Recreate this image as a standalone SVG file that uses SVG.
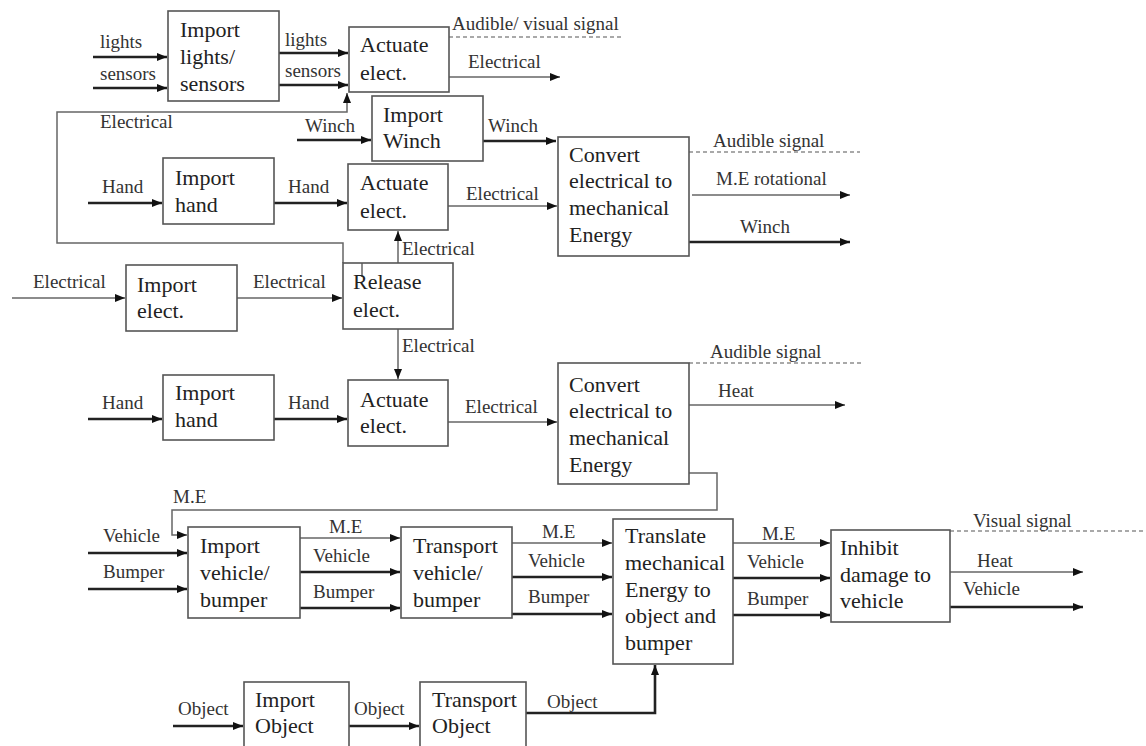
<svg xmlns="http://www.w3.org/2000/svg" width="1146" height="746" viewBox="0 0 1146 746">
<defs>
<style>
.box{fill:#fff;stroke:#555;stroke-width:1.6}
.t{font-family:"Liberation Serif","Times New Roman",serif;font-size:22px;fill:#222}
.l{font-family:"Liberation Serif","Times New Roman",serif;font-size:19px;fill:#333}
.ln{fill:none;stroke:#666;stroke-width:1.5}
.th{fill:none;stroke:#222;stroke-width:2.6}
.ds{fill:none;stroke:#555;stroke-width:1.2;stroke-dasharray:4 3}
.a{marker-end:url(#ah)}
</style>
<marker id="ah" viewBox="0 0 10 8" refX="10" refY="4" markerWidth="10" markerHeight="8" markerUnits="userSpaceOnUse" orient="auto">
<path d="M0,0 L10,4 L0,8 z" fill="#111"/>
</marker>
</defs>
<rect width="1146" height="746" fill="#fff"/>

<g id="connectors">
<line class="th a" x1="93" y1="57" x2="167" y2="57"/>
<line class="th a" x1="93" y1="88" x2="167" y2="88"/>
<line class="th a" x1="279" y1="53" x2="348" y2="53"/>
<line class="th a" x1="279" y1="85" x2="348" y2="85"/>
<path class="ln a" d="M343,263 V243 H57 V112 H347 V93"/>
<path class="ln" d="M362,263 V277"/>
<line class="ds" x1="449" y1="37" x2="622" y2="37"/>
<line class="ln a" x1="449" y1="77" x2="560" y2="77"/>
<line class="th a" x1="297" y1="140" x2="371" y2="140"/>
<line class="th a" x1="483" y1="141" x2="556" y2="141"/>
<line class="th a" x1="88" y1="203" x2="162" y2="203"/>
<line class="th a" x1="274" y1="203" x2="347" y2="203"/>
<line class="ln a" x1="448" y1="206" x2="557" y2="206"/>
<line class="ds" x1="689" y1="152" x2="860" y2="152"/>
<line class="ln a" x1="692" y1="195" x2="850" y2="195"/>
<line class="th a" x1="689" y1="242" x2="850" y2="242"/>
<line class="ln a" x1="398" y1="263" x2="398" y2="231"/>
<line class="ln a" x1="12" y1="298" x2="125" y2="298"/>
<line class="ln a" x1="237" y1="298" x2="342" y2="298"/>
<line class="ln a" x1="398" y1="329" x2="398" y2="379"/>
<line class="th a" x1="88" y1="419" x2="162" y2="419"/>
<line class="th a" x1="274" y1="419" x2="347" y2="419"/>
<line class="ln a" x1="448" y1="422" x2="557" y2="422"/>
<line class="ds" x1="689" y1="363" x2="862" y2="363"/>
<line class="ln a" x1="689" y1="405" x2="845" y2="405"/>
<path class="ln a" d="M689,473 H717 V510 H172 V535 H187"/>
<line class="th a" x1="88" y1="553" x2="187" y2="553"/>
<line class="th a" x1="88" y1="589" x2="187" y2="589"/>
<line class="ln a" x1="300" y1="538" x2="400" y2="538"/>
<line class="th a" x1="300" y1="572" x2="400" y2="572"/>
<line class="th a" x1="300" y1="608" x2="400" y2="608"/>
<line class="ln a" x1="512" y1="543" x2="612" y2="543"/>
<line class="th a" x1="512" y1="577" x2="612" y2="577"/>
<line class="th a" x1="512" y1="614" x2="612" y2="614"/>
<line class="ln a" x1="733" y1="543" x2="830" y2="543"/>
<line class="th a" x1="733" y1="578" x2="830" y2="578"/>
<line class="th a" x1="733" y1="615" x2="830" y2="615"/>
<line class="ds" x1="950" y1="531" x2="1146" y2="531"/>
<line class="ln a" x1="950" y1="572" x2="1083" y2="572"/>
<line class="th a" x1="950" y1="607" x2="1083" y2="607"/>
<line class="th a" x1="173" y1="726" x2="243" y2="726"/>
<line class="th a" x1="349" y1="726" x2="419" y2="726"/>
<path class="th a" d="M526,713 H655 V665"/>
</g>

<g id="labels">
<text class="l" x="100" y="48">lights</text>
<text class="l" x="100" y="80">sensors</text>
<text class="l" x="285" y="46">lights</text>
<text class="l" x="285" y="77">sensors</text>
<text class="l" x="100" y="128">Electrical</text>
<text class="l" x="452" y="30">Audible/ visual signal</text>
<text class="l" x="468" y="68">Electrical</text>
<text class="l" x="305" y="132">Winch</text>
<text class="l" x="488" y="132">Winch</text>
<text class="l" x="713" y="147">Audible signal</text>
<text class="l" x="716" y="185">M.E rotational</text>
<text class="l" x="740" y="233">Winch</text>
<text class="l" x="102" y="193">Hand</text>
<text class="l" x="288" y="193">Hand</text>
<text class="l" x="466" y="200">Electrical</text>
<text class="l" x="402" y="255">Electrical</text>
<text class="l" x="33" y="288">Electrical</text>
<text class="l" x="253" y="288">Electrical</text>
<text class="l" x="402" y="352">Electrical</text>
<text class="l" x="102" y="409">Hand</text>
<text class="l" x="288" y="409">Hand</text>
<text class="l" x="465" y="413">Electrical</text>
<text class="l" x="710" y="358">Audible signal</text>
<text class="l" x="718" y="397">Heat</text>
<text class="l" x="173" y="503">M.E</text>
<text class="l" x="103" y="542">Vehicle</text>
<text class="l" x="103" y="578">Bumper</text>
<text class="l" x="329" y="533">M.E</text>
<text class="l" x="313" y="562">Vehicle</text>
<text class="l" x="313" y="598">Bumper</text>
<text class="l" x="542" y="538">M.E</text>
<text class="l" x="528" y="567">Vehicle</text>
<text class="l" x="528" y="603">Bumper</text>
<text class="l" x="762" y="540">M.E</text>
<text class="l" x="747" y="568">Vehicle</text>
<text class="l" x="747" y="605">Bumper</text>
<text class="l" x="973" y="527">Visual signal</text>
<text class="l" x="977" y="567">Heat</text>
<text class="l" x="963" y="595">Vehicle</text>
<text class="l" x="178" y="715">Object</text>
<text class="l" x="354" y="715">Object</text>
<text class="l" x="547" y="708">Object</text>
</g>

<g id="n-import-lights"><rect class="box" x="168" y="11" width="111" height="90"/><text class="t" x="180" y="37">Import</text><text class="t" x="180" y="64">lights/</text><text class="t" x="180" y="91">sensors</text></g>
<g id="n-actuate1"><rect class="box" x="349" y="27" width="100" height="65"/><text class="t" x="360" y="52">Actuate</text><text class="t" x="360" y="80">elect.</text></g>
<g id="n-import-winch"><rect class="box" x="372" y="96" width="111" height="65"/><text class="t" x="383" y="122">Import</text><text class="t" x="383" y="148">Winch</text></g>
<g id="n-convert1"><rect class="box" x="558" y="137" width="131" height="119"/><text class="t" x="569" y="162">Convert</text><text class="t" x="569" y="188">electrical to</text><text class="t" x="569" y="215">mechanical</text><text class="t" x="569" y="242">Energy</text></g>
<g id="n-import-hand1"><rect class="box" x="163" y="158" width="111" height="66"/><text class="t" x="175" y="185">Import</text><text class="t" x="175" y="212">hand</text></g>
<g id="n-actuate2"><rect class="box" x="348" y="164" width="100" height="66"/><text class="t" x="360" y="190">Actuate</text><text class="t" x="360" y="218">elect.</text></g>
<g id="n-release"><rect class="box" x="343" y="263" width="110" height="66" fill-opacity="0"/><text class="t" x="353" y="289">Release</text><text class="t" x="353" y="317">elect.</text></g>
<g id="n-import-elect"><rect class="box" x="126" y="265" width="111" height="66"/><text class="t" x="137" y="292">Import</text><text class="t" x="137" y="318">elect.</text></g>
<g id="n-import-hand2"><rect class="box" x="163" y="375" width="111" height="65"/><text class="t" x="175" y="400">Import</text><text class="t" x="175" y="427">hand</text></g>
<g id="n-actuate3"><rect class="box" x="348" y="380" width="100" height="66"/><text class="t" x="360" y="407">Actuate</text><text class="t" x="360" y="433">elect.</text></g>
<g id="n-convert2"><rect class="box" x="558" y="363" width="131" height="121"/><text class="t" x="569" y="392">Convert</text><text class="t" x="569" y="418">electrical to</text><text class="t" x="569" y="445">mechanical</text><text class="t" x="569" y="472">Energy</text></g>
<g id="n-import-vb"><rect class="box" x="188" y="527" width="112" height="91"/><text class="t" x="200" y="553">Import</text><text class="t" x="200" y="580">vehicle/</text><text class="t" x="200" y="607">bumper</text></g>
<g id="n-transport-vb"><rect class="box" x="401" y="527" width="111" height="91"/><text class="t" x="413" y="553">Transport</text><text class="t" x="413" y="580">vehicle/</text><text class="t" x="413" y="607">bumper</text></g>
<g id="n-translate"><rect class="box" x="613" y="519" width="120" height="145"/><text class="t" x="625" y="543">Translate</text><text class="t" x="625" y="570">mechanical</text><text class="t" x="625" y="597">Energy to</text><text class="t" x="625" y="623">object and</text><text class="t" x="625" y="650">bumper</text></g>
<g id="n-inhibit"><rect class="box" x="831" y="530" width="119" height="92"/><text class="t" x="840" y="555">Inhibit</text><text class="t" x="840" y="582">damage to</text><text class="t" x="840" y="608">vehicle</text></g>
<g id="n-import-obj"><rect class="box" x="244" y="682" width="105" height="70"/><text class="t" x="255" y="707">Import</text><text class="t" x="255" y="733">Object</text></g>
<g id="n-transport-obj"><rect class="box" x="420" y="682" width="106" height="70"/><text class="t" x="432" y="707">Transport</text><text class="t" x="432" y="733">Object</text></g>
</svg>
